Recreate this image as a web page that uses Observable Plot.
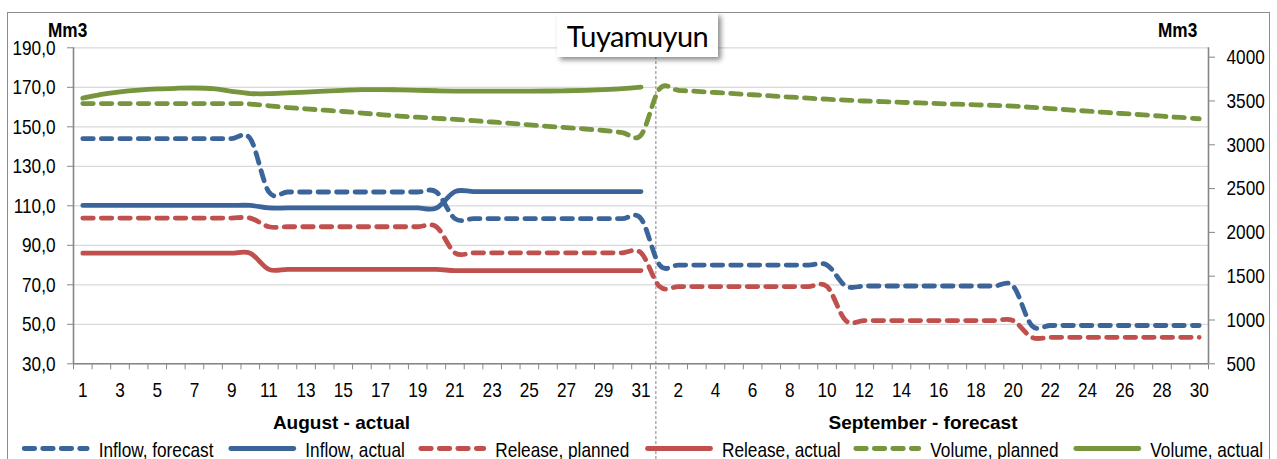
<!DOCTYPE html>
<html>
<head>
<meta charset="utf-8">
<script src="https://cdn.jsdelivr.net/npm/d3@7"></script>
<script src="https://cdn.jsdelivr.net/npm/@observablehq/plot@0.6"></script>
<style>
  body { margin: 0; background: #fff; }
  #wrap { position: relative; width: 1277px; height: 459px; overflow: hidden; background: #fff; }
  #frame { position: absolute; left: 7px; top: 12px; width: 1263px; height: 480px; border: 1.4px solid #8c8c8c; box-sizing: border-box; }
  #chart { position: absolute; left: 0; top: 0; }
  #title { position: absolute; left: 557px; top: 13px; width: 161px; height: 44px; background: #fff;
           box-shadow: 3px 3px 5px rgba(0,0,0,0.45); font-family: Lato, "Open Sans", sans-serif; font-size: 29px;
           letter-spacing: -0.6px; display: flex; align-items: center; justify-content: center; color: #000; }
</style>
</head>
<body>
<div id="wrap">
  <div id="frame"></div>
  <div id="chart"></div>
  <div id="title">Tuyamuyun</div>
</div>
<script>
// ---------- data ----------
const augustDays = d3.range(1, 32).map(String);
const septemberDays = d3.range(1, 31).map(String);
const dayLabels = [...augustDays, ...septemberDays];

const leftTicks = [30, 50, 70, 90, 110, 130, 150, 170, 190];
const rightTicks = [500, 1000, 1500, 2000, 2500, 3000, 3500, 4000];
const leftDomain = [30, 190];
const rightDomain = [500, 4107];

// Inflow / release: Mm3 (left axis), volume: Mm3 (right axis)
const inflowForecast = [
  144,144,144,144,144,144,144,144,144,144,
  117,117,117,117,117,117,117,117,117,117,
  103.5,103.5,103.5,103.5,103.5,103.5,103.5,103.5,103.5,103.5,103.5,
  80,80,80,80,80,80,80,80,80,80,
  69.4,69.4,69.4,69.4,69.4,69.4,69.4,69.4,69.4,69.4,
  49.4,49.4,49.4,49.4,49.4,49.4,49.4,49.4,49.4,49.4
];
const inflowActual = [
  110.2,110.2,110.2,110.2,110.2,110.2,110.2,110.2,110.2,110.2,
  108.9,108.9,108.9,108.9,108.9,108.9,108.9,108.9,108.9,108.9,
  117.2,117.2,117.2,117.2,117.2,117.2,117.2,117.2,117.2,117.2,117.2
];
const releasePlanned = [
  103.8,103.8,103.8,103.8,103.8,103.8,103.8,103.8,103.8,103.8,
  99.4,99.4,99.4,99.4,99.4,99.4,99.4,99.4,99.4,99.4,
  86.2,86.2,86.2,86.2,86.2,86.2,86.2,86.2,86.2,86.2,86.2,
  69.1,69.1,69.1,69.1,69.1,69.1,69.1,69.1,69.1,69.1,
  51.9,51.9,51.9,51.9,51.9,51.9,51.9,51.9,51.9,51.9,
  43.4,43.4,43.4,43.4,43.4,43.4,43.4,43.4,43.4,43.4
];
const releaseActual = [
  86,86,86,86,86,86,86,86,86,86,
  77.8,77.8,77.8,77.8,77.8,77.8,77.8,77.8,77.8,77.8,
  77.2,77.2,77.2,77.2,77.2,77.2,77.2,77.2,77.2,77.2,77.2
];
const volumePlanned = [
  3470,3470,3470,3470,3470,3470,3470,3470,3470,3465,
  3445,3425,3410,3395,3380,3362,3345,3328,3315,3302,
  3290,3275,3260,3245,3228,3210,3195,3180,3163,3140,3110,
  3640,3622,3610,3597,3584,3571,3558,3545,3532,3520,
  3510,3500,3492,3485,3478,3470,3463,3456,3449,3441,
  3427,3413,3398,3384,3369,3355,3341,3326,3312,3297
];
const volumeActual = [
  3532,3575,3605,3625,3638,3645,3648,3640,3610,3585,
  3583,3592,3602,3612,3622,3630,3630,3627,3622,3617,
  3613,3612,3612,3612,3612,3614,3617,3622,3630,3641,3658
];

const BLUE = "#3b659a", RED = "#c0504d", GREEN = "#77953d";
const series = [
  {name: "Inflow, forecast", values: inflowForecast, color: BLUE, dashed: true, axis: "left"},
  {name: "Inflow, actual", values: inflowActual, color: BLUE, dashed: false, axis: "left"},
  {name: "Release, planned", values: releasePlanned, color: RED, dashed: true, axis: "left"},
  {name: "Release, actual", values: releaseActual, color: RED, dashed: false, axis: "left"},
  {name: "Volume, planned", values: volumePlanned, color: GREEN, dashed: true, axis: "right"},
  {name: "Volume, actual", values: volumeActual, color: GREEN, dashed: false, axis: "right"}
];

// ---------- chart ----------
const FONT = '"Liberation Sans", Arial, sans-serif';
const NARROW = 0.82; // Arial Narrow ≈ Arial compressed horizontally
const toLeft = r => leftDomain[0] + (r - rightDomain[0]) / (rightDomain[1] - rightDomain[0]) * (leftDomain[1] - leftDomain[0]);
const fromLeft = l => rightDomain[0] + (l - leftDomain[0]) / (leftDomain[1] - leftDomain[0]) * (rightDomain[1] - rightDomain[0]);
const n = dayLabels.length;
const splitAt = 30.8; // boundary between actual (August) and forecast (September)
const DASH = "10.5,8";
const LW = 4.8;

const lineMarks = series.map(s => Plot.line(
  s.values.map((v, i) => ({i, v: s.axis === "right" ? toLeft(v) : v})),
  {x: "i", y: "v", stroke: s.color, strokeWidth: LW, strokeLinecap: "round", strokeLinejoin: "round",
   strokeDasharray: s.dashed ? DASH : null, curve: "cardinal", tension: 0}
));

const chart = Plot.plot({
  width: 1277, height: 459,
  marginTop: 47.3, marginBottom: 95.7, marginLeft: 73, marginRight: 69,
  style: {fontFamily: FONT, fontSize: "21px", background: "transparent", overflow: "visible"},
  x: {domain: [-0.5, n - 0.5], label: null},
  y: {domain: leftDomain, label: null},
  marks: [
    Plot.gridY({ticks: leftTicks, stroke: "#d9d9d9", strokeOpacity: 1, strokeWidth: 1.3}),
    Plot.ruleX([splitAt], {y1: -18.5, y2: 185, stroke: "#808080", strokeWidth: 1, strokeDasharray: "3,2"}),
    Plot.ruleX([-0.5, n - 0.5], {stroke: "#868686", strokeWidth: 1.6}),
    Plot.ruleY([leftDomain[0]], {stroke: "#868686", strokeWidth: 1.6}),
    Plot.axisY({ticks: leftTicks, tickSize: 6, tickPadding: 12, tickFormat: d => d.toFixed(1).replace(".", ","),
                stroke: "#868686", fill: "#000", fontSize: 21, label: null}),
    Plot.axisY({anchor: "right", ticks: rightTicks.map(toLeft), tickSize: 6, tickPadding: 12,
                tickFormat: d => String(Math.round(fromLeft(d))), stroke: "#868686", fill: "#000", fontSize: 21, label: null}),
    Plot.axisX({ticks: d3.range(-0.5, n, 1), tickSize: 6, tickFormat: () => "", stroke: "#868686", label: null}),
    Plot.axisX({ticks: d3.range(0, n, 2), tickSize: 0, tickPadding: 18, tickFormat: i => dayLabels[i],
                fill: "#000", fontSize: 21, label: null}),
    ...lineMarks
  ]
});
document.getElementById("chart").appendChild(chart);

// compress axis tick labels horizontally around their anchor (Arial Narrow look)
chart.querySelectorAll("text").forEach(t => {
  if (!t.textContent) return;
  const b = t.getBBox();
  const anchor = getComputedStyle(t).textAnchor;
  const a = anchor === "end" ? b.x + b.width : anchor === "middle" ? b.x + b.width / 2 : b.x;
  t.setAttribute("transform", (t.getAttribute("transform") || "") + ` translate(${a},0) scale(${NARROW},1) translate(${-a},0)`);
});

// ---------- texts & legend ----------
const svg = d3.select(chart);
const g = svg.append("g").attr("font-family", FONT).attr("fill", "#000").attr("text-anchor", "start");
const narrowText = (x, y, txt, size, weight) =>
  g.append("text").attr("transform", `translate(${x},${y}) scale(${NARROW},1)`)
   .attr("font-size", size).attr("font-weight", weight || "normal").text(txt);

narrowText(48, 36.7, "Mm3", 21, "bold");
narrowText(1158, 36.7, "Mm3", 21, "bold");
g.append("text").attr("x", 341.5).attr("y", 429).attr("text-anchor", "middle").attr("font-size", 19).attr("font-weight", "bold").text("August - actual");
g.append("text").attr("x", 923).attr("y", 429).attr("text-anchor", "middle").attr("font-size", 19).attr("font-weight", "bold").text("September - forecast");

const legendX = [21.7, 228.3, 418.3, 645, 853.3, 1073.3];
series.forEach((s, k) => {
  const x0 = legendX[k];
  g.append("line").attr("x1", x0 + 2.5).attr("x2", x0 + 65.5).attr("y1", 448.5).attr("y2", 448.5)
    .attr("stroke", s.color).attr("stroke-width", LW).attr("stroke-linecap", "round")
    .attr("stroke-dasharray", s.dashed ? DASH : null);
  narrowText(x0 + 77, 456.5, s.name, 21);
});
</script>
</body>
</html>
